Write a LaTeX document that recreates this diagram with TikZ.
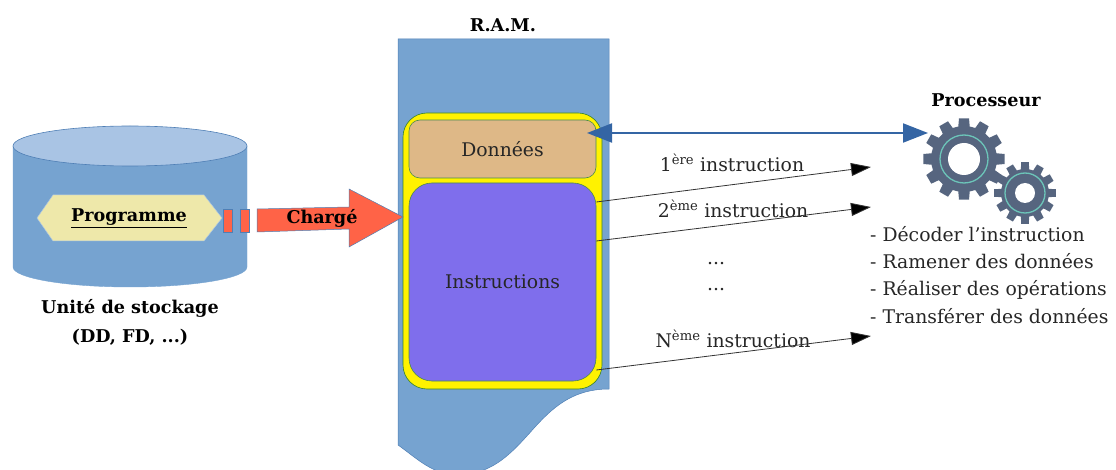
\documentclass[tikz,border=0pt]{standalone}
\usepackage{fontspec}
\setmainfont{DejaVu Serif}
\usetikzlibrary{arrows.meta}
\definecolor{ramblue}{HTML}{76A3D0}
\definecolor{topblue}{HTML}{A9C4E4}
\definecolor{edgeblue}{HTML}{4F7FB5}
\definecolor{arrowblue}{HTML}{3465A4}
\definecolor{tomatoarrow}{HTML}{FF6347}
\definecolor{gearslate}{HTML}{56657F}
\definecolor{gearteal}{HTML}{6CC5B9}
\definecolor{datatan}{HTML}{DEB887}
\definecolor{instrviolet}{HTML}{7F6EEC}
\definecolor{hexcream}{HTML}{EEE8AA}
\def\gearwheel(#1)(#2:#3:#4:#5){\begin{scope}[shift={(#1)}]
	\fill[gearslate] (0:#3) \foreach \t in {0,30,...,330} {
		-- ({\t-10}:#3) -- ({\t-7}:#2) -- ({\t+7}:#2) -- ({\t+10}:#3) -- ({\t+20}:#3)} -- cycle;
	\draw[gearteal, line width=1.3pt] (0,0) circle (#4);
	\fill[white] (0,0) circle (#5);
\end{scope}}
\tikzset{
	textbody/.style={font=\fontsize{18.8}{22}\selectfont, text=black!85},
	textbold/.style={font=\fontsize{17.6}{21}\selectfont\bfseries, text=black},
	boxzone/.style={draw=#1, inner sep=0pt, line width=0.6pt},
	instrarrow/.style={draw=black!80, line width=0.8pt, -{Triangle[length=20pt,width=13pt,fill=black]}},
}

\begin{document}
\begin{tikzpicture}[x=1pt, y=-1pt]
		\useasboundingbox (0, 0) rectangle (1116, 470);
		%%%%% storage unit %%%%%
		\draw[fill=ramblue, draw=ramblue] (13, 146) -- (13, 267) arc (180:0:117 and 20) -- (247, 146) -- cycle;
		\draw[fill=topblue, draw=edgeblue, line width=0.6pt] (130, 146) ellipse (117 and 20);
		\draw[fill=hexcream, draw=topblue, line width=0.5pt] (37, 218) -- (53, 195) -- (204, 195) -- (222, 218) -- (204, 241) -- (53, 241) -- cycle;
		\node[textbold] (prog) at (129, 218) {\underline{Programme}};
		\node[textbold] (stock) at (130, 308) {Unité de stockage};
		\node[textbold] (stockb) at (130, 337) {(DD, FD, ...)};
		
		%%%%% RAM %%%%%
		\draw[fill=ramblue, draw=edgeblue, line width=0.5pt] (398, 39) -- (609, 39) -- (609, 389)
			.. controls (575, 389) and (555, 405) .. (535, 427)
			.. controls (510, 455) and (490, 478) .. (450, 474)
			.. controls (430, 472) and (415, 457) .. (398, 445) -- cycle;
		\node[textbold] (ram) at (503, 25) {R.A.M.};
		\node[boxzone=black!50!green!60!gray, fill=yellow, rounded corners=24pt, minimum width=199pt, minimum height=276pt] (zone) at (502.5, 251) {};
		\node[boxzone=black!40!green!40!gray, fill=datatan, rounded corners=11pt, minimum width=187pt, minimum height=58pt, textbody] (data) at (502.5, 149) {Données};
		\node[boxzone=black!40!green!40!gray, fill=instrviolet, rounded corners=23pt, minimum width=187pt, minimum height=198pt, textbody] (instr) at (502.5, 282) {Instructions};
		
		%%%%% loading arrow %%%%%
		\draw[fill=tomatoarrow, draw=edgeblue, line width=0.5pt] (223, 209) rectangle (232, 232);
		\draw[fill=tomatoarrow, draw=edgeblue, line width=0.5pt] (240, 209) rectangle (249, 232);
		\draw[fill=tomatoarrow, draw=edgeblue, line width=0.5pt] (257, 209) -- (349, 207) -- (349, 189) -- (403, 217) -- (349, 247) -- (349, 229) -- (257, 232) -- cycle;
		\node[textbold] (charge) at (322, 218) {Chargé};
		
		%%%%% processor %%%%%
		\node[textbold] (proc) at (986, 100) {Processeur};
		\gearwheel(964, 159)(41:33:24:16)
		\gearwheel(1025, 193)(31:24:20:10)
		\coordinate (dataIn) at (587, 133);
		\coordinate (procIn) at (928, 133);
		\draw[arrowblue, line width=2pt, {Triangle[length=25pt,width=19pt]}-{Triangle[length=25pt,width=19pt]}] (dataIn) -- (procIn);
		\node[textbody, anchor=north west, align=left, inner sep=0pt, font=\fontsize{18.8}{27.3}\selectfont] (tasks) at (870, 226) {- Décoder l'instruction\\- Ramener des données\\- Réaliser des opérations\\- Transférer des données};
		
		%%%%% instructions %%%%%
		\node[textbody] (lblA) at (732, 163) {1\textsuperscript{ère} instruction};
		\node[textbody] (lblB) at (733, 209) {2\textsuperscript{ème} instruction};
		\node[textbody] (dotsA) at (716, 264) {...};
		\node[textbody] (dotsB) at (716, 290) {...};
		\node[textbody] (lblN) at (733, 339) {N\textsuperscript{ème} instruction};
		\coordinate (instrA) at (instr.east |- 0, 202);
		\coordinate (instrB) at (instr.east |- 0, 241);
		\coordinate (instrN) at (instr.east |- 0, 370);
		\coordinate (cibleA) at (871, 167);
		\coordinate (cibleB) at (871, 207);
		\coordinate (cibleN) at (871, 336);
		\draw[instrarrow] (instrA) -- (cibleA);
		\draw[instrarrow] (instrB) -- (cibleB);
		\draw[instrarrow] (instrN) -- (cibleN);
	\end{tikzpicture}
\end{document}
